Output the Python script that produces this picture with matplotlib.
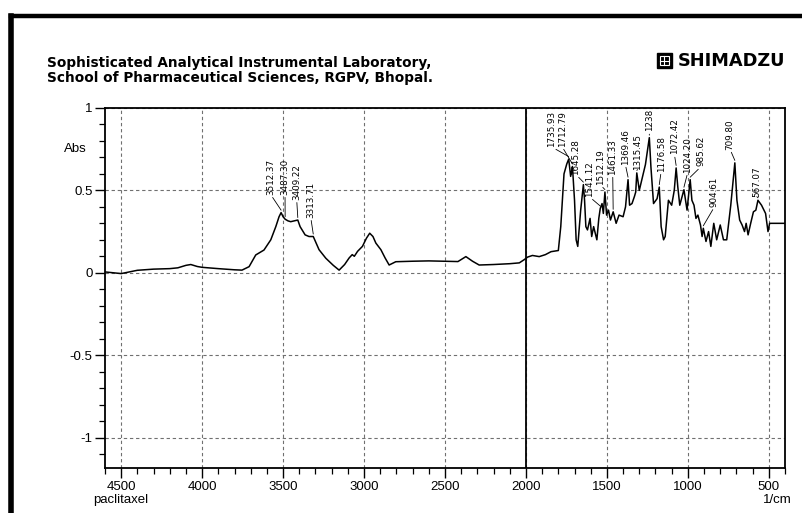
import matplotlib
matplotlib.use("Agg")
import matplotlib.pyplot as plt
from matplotlib.ticker import MultipleLocator, FixedLocator
from matplotlib.patches import Rectangle
from matplotlib.lines import Line2D

# FTIR absorbance spectrum of paclitaxel (wavenumber in 1/cm, absorbance)
wavenumber = [
    4600, 4550, 4500, 4450, 4400, 4300, 4200, 4150, 4100, 4070, 4030, 4000,
    3900, 3800, 3754, 3710, 3669, 3618, 3576, 3545, 3525, 3512.37, 3500,
    3487.30, 3470, 3453, 3430, 3409.22, 3395, 3364, 3340, 3313.71, 3278,
    3236, 3190, 3154, 3120, 3092, 3073, 3060, 3040, 3010, 2985, 2965, 2945,
    2927, 2896, 2870, 2845, 2804, 2700, 2600, 2500, 2420, 2371, 2330, 2289,
    2200, 2100, 2041, 2010, 1990, 1960, 1918, 1880, 1845, 1800, 1785, 1765,
    1748, 1735.93, 1724, 1712.79, 1700, 1690, 1680, 1662, 1645.28, 1638,
    1630, 1620, 1604, 1594, 1582, 1562, 1550, 1541.12, 1530, 1522, 1512.19,
    1502, 1490, 1478, 1461.33, 1443, 1425, 1400, 1385, 1369.46, 1360, 1345,
    1330, 1322, 1315.45, 1300, 1262, 1238, 1228, 1212, 1190, 1176.58, 1165,
    1150, 1140, 1120, 1100, 1084, 1072.42, 1062, 1050, 1024.20, 1005, 985.62,
    975, 962, 950, 938, 922, 912, 904.61, 888, 872, 858, 840, 822, 800, 780,
    760, 735, 709.80, 697, 680, 665, 650, 640, 628, 612, 595, 580, 567.07,
    545, 520, 505, 495, 470, 440, 400,
]
absorbance = [
    0.005, 0.0, -0.005, 0.005, 0.015, 0.022, 0.025, 0.03, 0.045, 0.05, 0.038,
    0.033, 0.025, 0.018, 0.016, 0.037, 0.108, 0.138, 0.20, 0.28, 0.34, 0.365,
    0.34, 0.325, 0.315, 0.31, 0.315, 0.32, 0.28, 0.23, 0.22, 0.22, 0.14,
    0.088, 0.045, 0.016, 0.05, 0.09, 0.11, 0.10, 0.13, 0.16, 0.21, 0.24, 0.22,
    0.18, 0.14, 0.09, 0.047, 0.067, 0.07, 0.072, 0.07, 0.068, 0.098, 0.07,
    0.047, 0.05, 0.055, 0.06, 0.08, 0.095, 0.105, 0.098, 0.11, 0.128, 0.135,
    0.28, 0.60, 0.66, 0.69, 0.585, 0.645, 0.44, 0.20, 0.16, 0.38, 0.535,
    0.44, 0.28, 0.26, 0.33, 0.22, 0.28, 0.20, 0.33, 0.39, 0.42, 0.36, 0.49,
    0.35, 0.38, 0.32, 0.37, 0.30, 0.35, 0.34, 0.40, 0.565, 0.41, 0.42, 0.463,
    0.49, 0.606, 0.50, 0.657, 0.82, 0.64, 0.42, 0.45, 0.52, 0.28, 0.20, 0.22,
    0.44, 0.41, 0.50, 0.636, 0.52, 0.41, 0.504, 0.38, 0.565, 0.44, 0.41, 0.33,
    0.35, 0.29, 0.22, 0.27, 0.19, 0.25, 0.16, 0.30, 0.20, 0.29, 0.20, 0.20,
    0.41, 0.667, 0.44, 0.32, 0.29, 0.25, 0.30, 0.23, 0.30, 0.37, 0.38, 0.44,
    0.41, 0.36, 0.25, 0.30, 0.30, 0.30, 0.30,
]

# Picked peaks (wavenumber labels)
peak_labels = [
    "3512.37", "3487.30", "3409.22", "3313.71", "1735.93", "1712.79",
    "1645.28", "1541.12", "1512.19", "1461.33", "1369.46", "1315.45",
    "1238", "1176.58", "1072.42", "1024.20", "985.62", "904.61", "709.80",
    "567.07",
]
# where each rotated label sits (x in 1/cm, lower end of text in Abs)
label_x = [3576, 3488, 3416, 3329, 1845, 1777, 1691, 1609, 1542, 1464,
           1386, 1310, 1238, 1165, 1083, 1001, 918, 836, 739, 574]
label_base = [0.474, 0.474, 0.443, 0.334, 0.766, 0.766, 0.596, 0.462,
              0.535, 0.596, 0.657, 0.626, 0.858, 0.614, 0.718, 0.608,
              0.645, 0.40, 0.748, 0.462]

x_ticks = [4500, 4000, 3500, 3000, 2500, 2000, 1500, 1000, 500]
y_ticks = [-1, -0.5, 0, 0.5, 1]
y_tick_labels = ["-1", "-0.5", "0", "0.5", "1"]

W, H = 803, 513
fig = plt.figure(figsize=(W / 100, H / 100), dpi=100)
fig.patch.set_facecolor("white")

# heavy page frame (top and left edges)
fig.add_artist(Line2D([11 / W, 11 / W], [0, 1 - 16 / H], color="black",
                      lw=4.0, transform=fig.transFigure, solid_capstyle="projecting"))
fig.add_artist(Line2D([11 / W, 1], [1 - 16 / H, 1 - 16 / H], color="black",
                      lw=3.2, transform=fig.transFigure, solid_capstyle="projecting"))

ax = fig.add_axes([105 / W, 1 - 468 / H, 680 / W, 360 / H])
ax.set_xlim(4600, 400)
ax.set_ylim(-1.185, 1.0)

lab_font = "Liberation Sans"

# dashed grid at major ticks
for xv in x_ticks:
    ax.axvline(xv, color="#707070", lw=0.8, ls=(0, (3, 2.5)), zorder=1)
for yv in y_ticks:
    ax.axhline(yv, color="#707070", lw=0.8, ls=(0, (3, 2.5)), zorder=1)
ax.axvline(2000, color="black", lw=1.3, zorder=2)

ax.plot(wavenumber, absorbance, color="black", lw=1.1, zorder=3)

# peak annotations
for name, lx, lb in zip(peak_labels, label_x, label_base):
    wn = float(name)
    yv = absorbance[wavenumber.index(wn)]
    ax.annotate(name, xy=(wn, yv + 0.015), xytext=(lx, lb),
                rotation=90, ha="center", va="bottom", fontsize=6.3,
                family="DejaVu Sans", zorder=4,
                arrowprops=dict(arrowstyle="-", lw=0.6, color="black",
                                shrinkA=0, shrinkB=0, relpos=(0.5, 0.0)))

ax.xaxis.set_major_locator(FixedLocator(x_ticks))
ax.xaxis.set_minor_locator(MultipleLocator(100))
ax.yaxis.set_major_locator(FixedLocator(y_ticks))
ax.yaxis.set_minor_locator(MultipleLocator(0.1))
ax.set_xticklabels([str(v) for v in x_ticks])
ax.set_yticklabels(y_tick_labels)
ax.tick_params(axis="both", which="major", direction="out", length=7,
               width=1.0, labelsize=9.5, pad=2)
ax.tick_params(axis="both", which="minor", direction="out", length=4,
               width=0.9)
for lab in ax.get_xticklabels() + ax.get_yticklabels():
    lab.set_family(lab_font)
for s in ax.spines.values():
    s.set_linewidth(1.3)

ax.text(-0.027, (0.75 + 1.185) / 2.185, "Abs", transform=ax.transAxes,
        ha="right", va="center", fontsize=9.5, family=lab_font)
fig.text(93 / W, 1 - 500 / H, "paclitaxel", ha="left", va="center",
         fontsize=9.5, family=lab_font)
fig.text(792 / W, 1 - 500 / H, "1/cm", ha="right", va="center",
         fontsize=9.5, family=lab_font)

# header
fig.text(47 / W, 1 - 63 / H, "Sophisticated Analytical Instrumental Laboratory,",
         ha="left", va="center", fontsize=9.8, fontweight="bold",
         family="DejaVu Sans")
fig.text(47 / W, 1 - 78 / H, "School of Pharmaceutical Sciences, RGPV, Bhopal.",
         ha="left", va="center", fontsize=9.8, fontweight="bold",
         family="DejaVu Sans")

# maker badge
fig.add_artist(Rectangle((657 / W, 1 - 68 / H), 15 / W, 15 / H,
                         transform=fig.transFigure, facecolor="black",
                         edgecolor="black"))
fig.add_artist(Rectangle((660 / W, 1 - 65 / H), 9 / W, 9 / H,
                         transform=fig.transFigure, facecolor="none",
                         edgecolor="white", lw=0.8))
fig.add_artist(Line2D([660 / W, 669 / W], [1 - 60.5 / H, 1 - 60.5 / H],
                      color="white", lw=0.8, transform=fig.transFigure))
fig.add_artist(Line2D([664.5 / W, 664.5 / W], [1 - 65 / H, 1 - 56 / H],
                      color="white", lw=0.8, transform=fig.transFigure))
fig.text(678 / W, 1 - 60.5 / H, "SHIMADZU", ha="left", va="center",
         fontsize=12.8, fontweight="bold", family="DejaVu Sans")

fig.savefig("out.png", dpi=100)
